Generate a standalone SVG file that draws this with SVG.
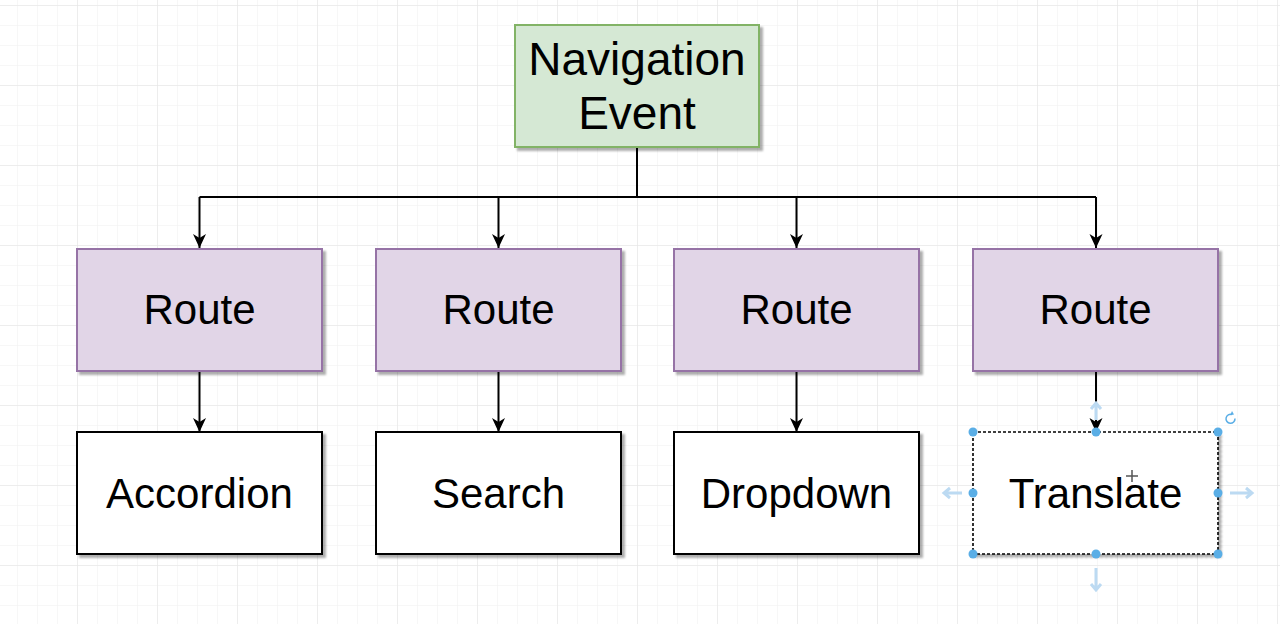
<svg xmlns="http://www.w3.org/2000/svg" width="1280" height="624" viewBox="0 0 1280 624">
<defs>
<pattern id="minor" width="20" height="20" patternUnits="userSpaceOnUse" x="-3" y="5">
<path d="M0 0H20M0 0V20" fill="none" stroke="#f0f0f0" stroke-width="1"/>
</pattern>
<pattern id="major" width="80" height="80" patternUnits="userSpaceOnUse" x="-3" y="5">
<path d="M0 0H80M0 0V80" fill="none" stroke="#e4e4e4" stroke-width="1"/>
</pattern>
<marker id="arr" viewBox="0 0 14 14" refX="14" refY="7" markerWidth="14" markerHeight="14" markerUnits="userSpaceOnUse" orient="auto">
<path d="M0 0.5 L14 7 L0 13.5 L4 7 Z" fill="#000"/>
</marker>
<filter id="sh" x="-10%" y="-10%" width="130%" height="130%">
<feOffset dx="3" dy="3" in="SourceAlpha" result="o"/>
<feGaussianBlur in="o" stdDeviation="0.8" result="b"/>
<feFlood flood-color="#000" flood-opacity="0.32"/>
<feComposite in2="b" operator="in" result="s"/>
<feMerge><feMergeNode in="s"/><feMergeNode in="SourceGraphic"/></feMerge>
</filter>
</defs>
<style>
.t{font-family:"Liberation Sans",Arial,sans-serif;font-size:42px;fill:#000;text-anchor:middle}
.nav{fill:#d5e8d4;stroke:#82b366;stroke-width:2}
.route{fill:#e1d5e7;stroke:#9673a6;stroke-width:2}
.comp{fill:#fff;stroke:#000;stroke-width:2}
.sel{stroke-width:1.6;stroke-dasharray:3 2}
.c{fill:none;stroke:#000;stroke-width:2}
.h{fill:#5aaee6}
.ga{fill:none;stroke:#bcdaf2;stroke-width:3}
</style>
<rect width="1280" height="624" fill="#fff"/>
<rect width="1280" height="624" fill="url(#minor)"/>
<rect width="1280" height="624" fill="url(#major)"/>

<g id="connectors">
<path class="c" d="M637 148V197"/>
<path class="c" d="M199.5 197H1096"/>
<path class="c" d="M199.5 197V248" marker-end="url(#arr)"/>
<path class="c" d="M498.5 197V248" marker-end="url(#arr)"/>
<path class="c" d="M796.5 197V248" marker-end="url(#arr)"/>
<path class="c" d="M1096 197V248" marker-end="url(#arr)"/>
<path class="c" d="M199.5 372V432" marker-end="url(#arr)"/>
<path class="c" d="M498.5 372V432" marker-end="url(#arr)"/>
<path class="c" d="M796.5 372V432" marker-end="url(#arr)"/>
<path class="c" d="M1096 372V432" marker-end="url(#arr)"/>
</g>

<g id="nav-event">
<rect class="nav" x="515" y="25" width="244" height="122" filter="url(#sh)"/>
<text class="t" x="637" y="75" style="font-size:46px">Navigation</text>
<text class="t" x="637" y="129" style="font-size:46px">Event</text>
</g>

<g id="route1">
<rect class="route" x="77" y="249" width="245" height="122" filter="url(#sh)"/>
<text class="t" x="199.5" y="324">Route</text>
</g>
<g id="route2">
<rect class="route" x="376" y="249" width="245" height="122" filter="url(#sh)"/>
<text class="t" x="498.5" y="324">Route</text>
</g>
<g id="route3">
<rect class="route" x="674" y="249" width="245" height="122" filter="url(#sh)"/>
<text class="t" x="796.5" y="324">Route</text>
</g>
<g id="route4">
<rect class="route" x="973" y="249" width="245" height="122" filter="url(#sh)"/>
<text class="t" x="1095.5" y="324">Route</text>
</g>

<g id="accordion">
<rect class="comp" x="77" y="432" width="245" height="122" filter="url(#sh)"/>
<text class="t" x="199.5" y="508">Accordion</text>
</g>
<g id="search">
<rect class="comp" x="376" y="432" width="245" height="122" filter="url(#sh)"/>
<text class="t" x="498.5" y="508">Search</text>
</g>
<g id="dropdown">
<rect class="comp" x="674" y="432" width="245" height="122" filter="url(#sh)"/>
<text class="t" x="796.5" y="508">Dropdown</text>
</g>
<g id="translate">
<rect class="comp sel" x="973" y="432" width="245" height="122" filter="url(#sh)"/>
<text class="t" x="1095.5" y="508">Translate</text>
</g>

<g id="selection">
<circle class="h" cx="973" cy="432" r="4.5"/>
<circle class="h" cx="1096" cy="432" r="4.5"/>
<circle class="h" cx="1218" cy="432" r="4.5"/>
<circle class="h" cx="973" cy="493" r="4.5"/>
<circle class="h" cx="1218" cy="493" r="4.5"/>
<circle class="h" cx="973" cy="554" r="4.5"/>
<circle class="h" cx="1096" cy="554" r="4.5"/>
<circle class="h" cx="1218" cy="554" r="4.5"/>
<path d="M1235 418.5a4.5 4.5 0 1 1 -3 -4" fill="none" stroke="#5aaee6" stroke-width="1.5"/>
<path d="M1232 411l2 3.5-3.8 .8z" fill="#5aaee6"/>
<path class="ga" d="M944 493h18M950 488l-6 5 6 5"/>
<path class="ga" d="M1230 493h22M1246 488l6 5-6 5"/>
<path class="ga" d="M1096 568v22M1091 584l5 6 5-6"/>
<path class="ga" d="M1096 420v-16M1091 409l5-6 5 6"/>
<path d="M1132 470v12M1126 476h12" stroke="#555" stroke-width="1.5"/>
</g>
</svg>
